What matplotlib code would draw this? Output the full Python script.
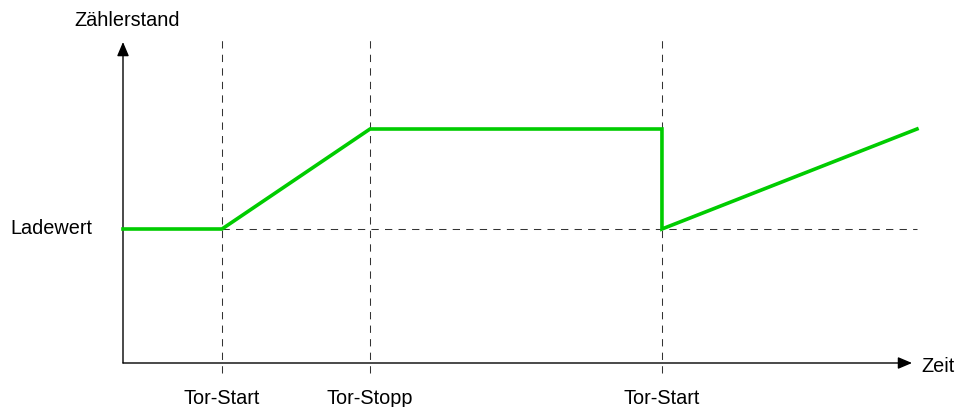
import matplotlib.pyplot as plt

plt.rcParams['font.family'] = ['Liberation Sans', 'DejaVu Sans']

#Counter curve (time in arbitrary units, counter value)
zeit = [0, 1.0, 2.495, 5.444, 5.444, 8.02]
zaehler = [1.34, 1.34, 2.34, 2.34, 1.34, 2.34]

#Gate events
tor_zeiten = [1.0, 2.495, 5.444]
tor_labels = ['Tor-Start', 'Tor-Stopp', 'Tor-Start']
ladewert = 1.34

fig = plt.figure(figsize=(9.7, 4.07), dpi=100)
ax = fig.add_axes([0, 0, 1, 1])
ax.set_xlim(-123 / 99, (970 - 123) / 99)
ax.set_ylim(-0.44, 3.63)
ax.axis('off')

#Dashed helper lines
for t in tor_zeiten:
    ax.plot([t, t], [-0.1, 3.23], color='#333333', lw=0.75, dashes=(7, 6))
ax.plot([tor_zeiten[0], zeit[-1]], [ladewert, ladewert], color='#333333', lw=0.75, dashes=(7, 6))

#Axes with arrows
arr = dict(arrowstyle='-|>,head_length=0.85,head_width=0.36', color='black', lw=1, shrinkA=0, shrinkB=0)
ax.annotate('', xy=(7.97, 0), xytext=(0, 0), arrowprops=arr)
ax.annotate('', xy=(0, 3.21), xytext=(0, 0), arrowprops=arr)

#Counter line
ax.plot(zeit, zaehler, color='#00CC00', lw=2.6, solid_joinstyle='miter', zorder=5)

#Texts
fs = 14.3
ax.text(0.04, 3.43, 'Zählerstand', fontsize=fs, ha='center', va='center')
ax.text(8.06, -0.03, 'Zeit', fontsize=fs, ha='left', va='center')
ax.text(-0.31, ladewert, 'Ladewert', fontsize=fs, ha='right', va='center')
for t, lab in zip(tor_zeiten, tor_labels):
    ax.text(t, -0.36, lab, fontsize=fs, ha='center', va='center')

plt.savefig('out.png', dpi=100)
